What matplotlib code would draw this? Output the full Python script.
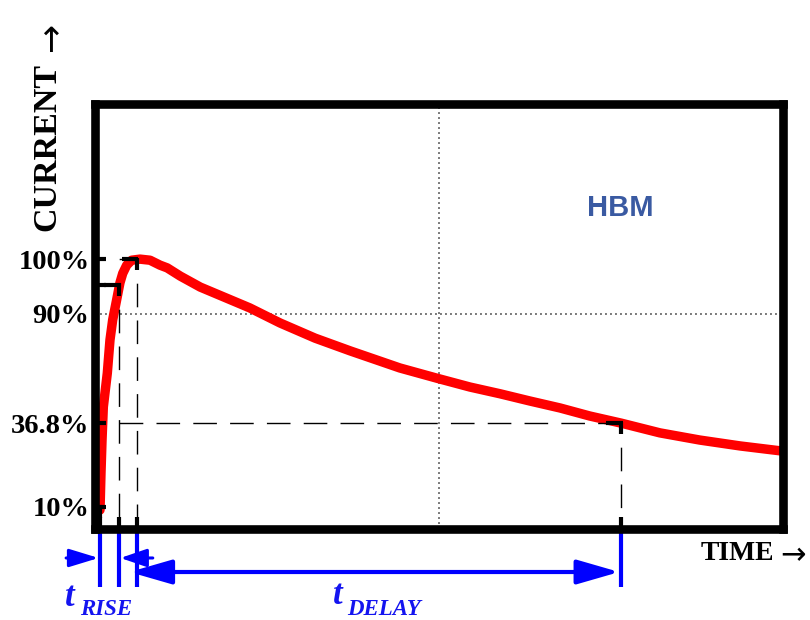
import numpy as np
import matplotlib
matplotlib.use("Agg")
import matplotlib.pyplot as plt

plt.rcParams["lines.scale_dashes"] = False

# ---- waveform: time (arbitrary units across the window) and current (% of peak)
time_pts = [0.73, 0.87, 1.02, 1.21, 1.79, 2.18, 2.57, 3.15, 3.63, 4.03, 4.61,
            5.33, 6.54, 8.0, 9.45, 10.5, 12.4, 15.3, 22.5, 26.9, 32.0, 37.1,
            44.3, 49.7, 54.5, 58.9, 63.2, 67.6, 71.9, 76.5, 82.1, 87.9, 93.8,
            99.4, 100.0]
current_pct = [8.6, 20.9, 31.4, 44.7, 61.2, 77.4, 87.1, 92.6, 95.7, 97.4, 98.9,
               99.8, 100.0, 99.8, 98.9, 98.4, 96.9, 94.9, 91.1, 85.6, 78.2, 72.0,
               63.7, 58.7, 54.4, 51.1, 47.6, 44.2, 40.3, 36.8, 33.7, 31.4, 29.5,
               28.0, 27.9]

# ---- labelled current levels
tick_levels = [10, 36.8, 90, 100]
tick_labels = ["10%", "36.8%", "90%", "100%"]

# ---- characteristic points: 10 %, rise end, peak, decay to 36.8 %
mark_times = [0.73, 3.5, 6.1, 76.5]
mark_levels = [10, 95.3, 100, 36.8]
t10, t90, t100, t368 = mark_times

# schematic (non-linear) current axis: knots of percent -> axis fraction
scale_pct = [0, 10, 36.8, 90, 100, 128]
scale_pos = [0, 0.052, 0.249, 0.506, 0.635, 1.0]


def fwd(v):
    return np.interp(v, scale_pct, scale_pos)


def inv(v):
    return np.interp(v, scale_pos, scale_pct)


W, H = 810, 620
BLUE = "#0000ff"
TBLUE = "#1414f0"
SERIF = ["Liberation Serif", "DejaVu Serif"]
ARROWFONT = ["DejaVu Sans"]

fig = plt.figure(figsize=(W / 100, H / 100), dpi=100)
ax = fig.add_axes([95 / W, 1 - 529 / H, 688 / W, 425 / H])
ax.set_yscale("function", functions=(fwd, inv))
ax.set_xlim(0, 100)
ax.set_ylim(0, 128)

for s in ax.spines.values():
    s.set_linewidth(6.2)
    s.set_capstyle("projecting")
    s.set_zorder(6)

ax.set_xticks([])
ax.set_yticks(tick_levels)
ax.set_yticklabels(tick_labels, family=SERIF, fontweight="bold", fontsize=20.5)
ax.tick_params(axis="y", length=0, pad=4)

# dotted centre grid
ax.axvline(50, color="#555555", lw=1.1, ls=(0, (1.4, 2.2)), zorder=1)
ax.axhline(90, color="#555555", lw=1.1, ls=(0, (1.4, 2.2)), zorder=1)

# current waveform
ax.plot(time_pts, current_pct, color="#ff0000", lw=6.8,
        solid_capstyle="round", solid_joinstyle="round", zorder=3)

# ---- black reference lines to each characteristic point
to_data = ax.transData.inverted()


def seg_px(p0, p1, **kw):
    d = to_data.transform([p0, p1])
    ax.plot(d[:, 0], d[:, 1], color="black", zorder=4, **kw)


DASH = (17, 9.5)
for tm, lv in zip(mark_times, mark_levels):
    cx, cy = ax.transData.transform((tm, lv))
    ax_x = ax.transData.transform((0, lv))[0]
    by = ax.transData.transform((tm, 0))[1]
    thin = dict(lw=1.0, ls=(DASH[0], DASH), solid_capstyle="butt")
    # thin dashed legs
    if cx - 15 > ax_x + 11:
        seg_px((ax_x + 11, cy), (cx - 15, cy), **thin)
    seg_px((cx, cy - 11), (cx, by + 12), **thin)
    # heavy strokes at the ends and at the corner
    thick = dict(lw=3.0, solid_capstyle="butt")
    seg_px((ax_x, cy), (ax_x + 11, cy), **thick)
    seg_px((cx - 15, cy), (cx + 1.5, cy), **thick)
    seg_px((cx, cy + 1.5), (cx, cy - 11), **thick)
    seg_px((cx, by), (cx, by + 12), **thick)

# ---- blue timing markers below the window
xt = ax.get_xaxis_transform()
for tm in mark_times:
    ax.plot([tm, tm], [0, -0.1365], transform=xt, color=BLUE, lw=3.0,
            solid_capstyle="butt", clip_on=False, zorder=1)

y_rise = -0.0682
y_delay = -0.1012
ax.annotate("", xy=(t10, y_rise), xytext=(-4.2, y_rise), xycoords=xt,
            arrowprops=dict(arrowstyle="-|>,head_length=1.8,head_width=0.55",
                            mutation_scale=10, lw=2.2, color=BLUE,
                            shrinkA=0, shrinkB=1))
ax.annotate("", xy=(t90, y_rise), xytext=(8.4, y_rise), xycoords=xt,
            arrowprops=dict(arrowstyle="-|>,head_length=1.6,head_width=0.55",
                            mutation_scale=10, lw=2.2, color=BLUE,
                            shrinkA=0, shrinkB=1))
ax.annotate("", xy=(t368 - 0.3, y_delay), xytext=(t100 - 1.1, y_delay),
            xycoords=xt,
            arrowprops=dict(arrowstyle="<|-|>,head_length=2.6,head_width=0.75",
                            mutation_scale=10, lw=3.0, color=BLUE,
                            shrinkA=0, shrinkB=0))


def fx(x):
    return x / W


def fy(y):
    return 1 - y / H


# subscripted timing labels
bi = dict(family=SERIF, fontweight="bold", fontstyle="italic", color=TBLUE)
fig.text(fx(65), fy(606), "t", fontsize=25, va="baseline", ha="left", **bi)
fig.text(fx(80), fy(615), "RISE", fontsize=16.5, va="baseline", ha="left", **bi)
fig.text(fx(333), fy(604), "t", fontsize=25, va="baseline", ha="left", **bi)
fig.text(fx(347), fy(615), "DELAY", fontsize=16.5, va="baseline", ha="left", **bi)

# axis titles
fig.text(fx(47), fy(231), "CURRENT", rotation=90, ha="center", va="bottom",
         family=SERIF, fontweight="bold", fontsize=24.5)
fig.text(fx(50), fy(52), "\u2192", rotation=90, ha="center", va="bottom",
         family=ARROWFONT, fontsize=25)
fig.text(fx(701), fy(560), "TIME", ha="left", va="baseline",
         family=SERIF, fontweight="bold", fontsize=20)
fig.text(fx(780), fy(553), "\u2192", ha="left", va="center_baseline",
         family=ARROWFONT, fontsize=22)

fig.text(fx(587), fy(216), "HBM", ha="left", va="baseline",
         family=["Liberation Sans", "DejaVu Sans"], fontweight="bold",
         fontsize=21, color="#3a5aa2")

fig.savefig("out.png", dpi=100)
